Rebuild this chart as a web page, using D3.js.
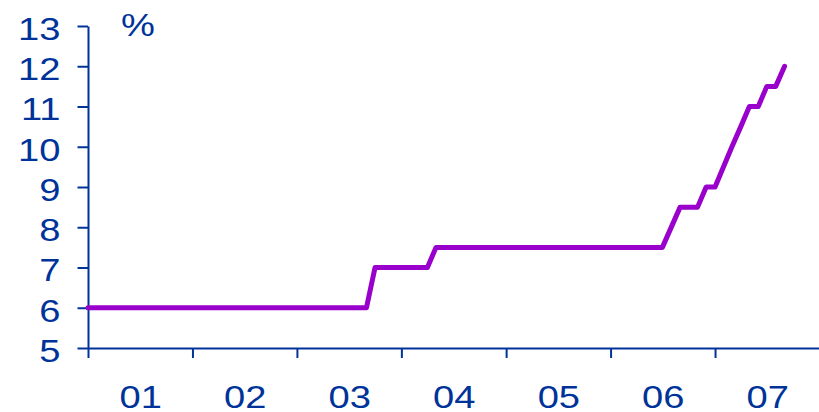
<!DOCTYPE html>
<html>
<head>
<meta charset="utf-8">
<script src="https://cdn.jsdelivr.net/npm/d3@7"></script>
<style>
  html, body { margin: 0; padding: 0; background: #fff; }
  svg { display: block; }
</style>
</head>
<body>
<svg id="chart" width="819" height="412"></svg>
<script>
// ---- data (policy rate, %) ----
const dates = ["2001-01-01","2003-09-01","2003-10-01","2004-04-01","2004-05-01",
  "2006-07-01","2006-09-01","2006-11-01","2006-12-01","2007-01-01","2007-03-01",
  "2007-04-01","2007-05-01","2007-06-01","2007-07-01","2007-08-01","2007-09-01"];
const values = [6, 6, 7, 7, 7.5, 7.5, 8.5, 8.5, 9, 9, 10, 10.5, 11, 11, 11.5, 11.5, 12];
const yTicks = [5, 6, 7, 8, 9, 10, 11, 12, 13];
const yearStarts = ["2001-01-01","2002-01-01","2003-01-01","2004-01-01","2005-01-01","2006-01-01","2007-01-01","2008-01-01"];
const yearLabels = ["01","02","03","04","05","06","07"];
const unitLabel = "%";

(function () {
// ---- layout ----
const blue = "#003399";
const purple = "#9900cc";
const fontFam = "'Liberation Sans', Arial, sans-serif";
const fontSize = 30.5;
const sx = 1.25; // horizontal stretch of glyphs
const mLeft = 88, mRight = 819.5, mTop = 26, mBottom = 348;

const parse = d3.timeParse("%Y-%m-%d");
const data = dates.map((d, i) => ({ date: parse(d), value: values[i] }));
const yearDates = yearStarts.map(parse);

const x = d3.scaleTime().domain([yearDates[0], yearDates[yearDates.length - 1]]).range([mLeft, mRight]);
const y = d3.scaleLinear().domain([5, 13]).range([mBottom, mTop]);

const svg = d3.select("#chart");

// y axis
const yAxis = svg.append("g")
  .attr("transform", `translate(${mLeft},0)`)
  .call(d3.axisLeft(y).tickValues(yTicks).tickSize(10.5).tickSizeOuter(0).tickPadding(0));
yAxis.select(".domain").attr("stroke", blue).attr("stroke-width", 2);
yAxis.selectAll(".tick line").attr("stroke", blue).attr("stroke-width", 2);
yAxis.selectAll(".tick text")
  .attr("fill", blue)
  .attr("font-family", fontFam)
  .attr("font-size", fontSize)
  .attr("text-anchor", "end")
  .attr("dy", null)
  .attr("x", -27.5 / sx)
  .attr("y", 13.3)
  .attr("transform", `scale(${sx},1)`);

// x axis: year boundary ticks
const xAxis = svg.append("g")
  .attr("transform", `translate(0,${mBottom})`)
  .call(d3.axisBottom(x).tickValues(yearDates).tickSize(10).tickSizeOuter(0).tickFormat(""));
xAxis.select(".domain").attr("stroke", blue).attr("stroke-width", 2);
xAxis.selectAll(".tick line").attr("stroke", blue).attr("stroke-width", 2);

// x axis labels centered mid-year
const midDates = yearDates.slice(0, -1).map((d, i) => new Date((d.getTime() + yearDates[i + 1].getTime()) / 2));
const xLab = svg.append("g")
  .attr("transform", `translate(0,${mBottom})`)
  .call(d3.axisBottom(x).tickValues(midDates).tickSize(0).tickFormat((d, i) => yearLabels[i]));
xLab.select(".domain").remove();
xLab.selectAll(".tick text")
  .attr("fill", blue)
  .attr("font-family", fontFam)
  .attr("font-size", fontSize)
  .attr("text-anchor", "middle")
  .attr("dy", null)
  .attr("y", 60)
  .attr("x", 0)
  .attr("transform", `scale(${sx},1)`);

// unit label
svg.append("text")
  .attr("transform", `translate(138,36) scale(${sx},1)`)
  .attr("text-anchor", "middle")
  .attr("fill", blue)
  .attr("font-family", fontFam)
  .attr("font-size", fontSize)
  .text(unitLabel);

// line
const line = d3.line().x(d => x(d.date)).y(d => y(d.value));
svg.append("path")
  .datum(data)
  .attr("d", line)
  .attr("fill", "none")
  .attr("stroke", purple)
  .attr("stroke-width", 5)
  .attr("stroke-linejoin", "round")
  .attr("stroke-linecap", "round");
})();
</script>
</body>
</html>
